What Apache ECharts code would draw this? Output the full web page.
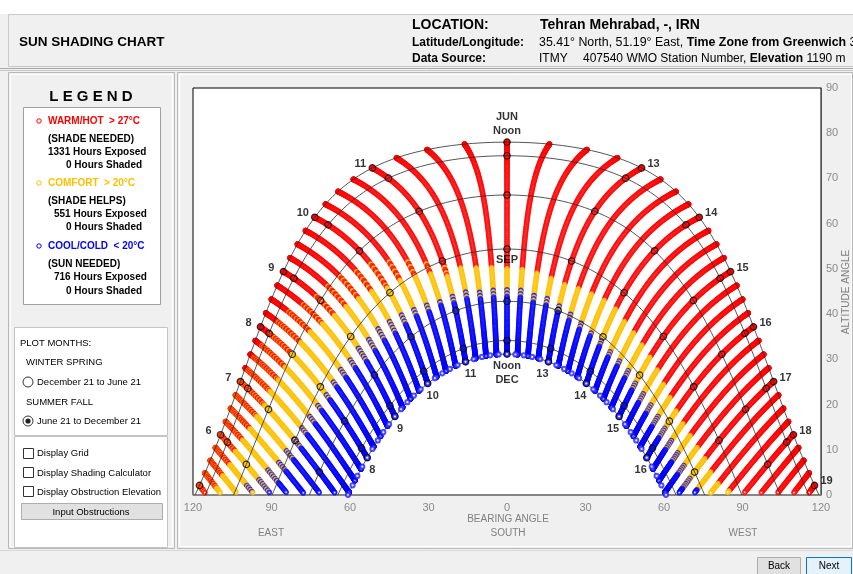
<!DOCTYPE html>
<html><head><meta charset="utf-8">
<script src="https://cdn.jsdelivr.net/npm/echarts@6/dist/echarts.min.js"></script>
<style>html,body{margin:0;padding:0;background:#fff}#c{width:853px;height:574px}</style>
</head><body><div id="c"></div>
<script>
// ---------------- data ----------------
const LATITUDE = 35.41;                 // deg North (Tehran Mehrabad)
const X_TICKS = [-120, -90, -60, -30, 0, 30, 60, 90, 120];   // bearing, east negative
const Y_TICKS = [0, 10, 20, 30, 40, 50, 60, 70, 80, 90];      // altitude
const ARC_NAMES = ['JUN', 'JUL', 'AUG', 'SEP', 'OCT', 'NOV', 'DEC'];
const ARC_DAYS  = [0, 30, 61, 92, 122, 153, 183];             // days after June 21
const LAST_DAY = 183;                                          // December 21
const MARK_HOURS = [5, 6, 7, 8, 9, 10, 11, 12, 13, 14, 15, 16, 17, 18, 19];
const JUN_LABELS = [['6',6],['7',7],['8',8],['9',9],['10',10],['11',11],['JUN\nNoon',12],
                    ['13',13],['14',14],['15',15],['16',16],['17',17],['18',18],['19',19]];
const DEC_LABELS = [['8',8],['9',9],['10',10],['11',11],['Noon\nDEC',12],['13',13],['14',14],['15',15],['16',16]];
// colour class along each 15-minute solar-time stroke, as segments "class:lastDay"
// R = warm/hot, Y = comfort, B = cool/cold, RY / YB = mixed days
const SLOT_COLORS = [
 ['5:00','RY'], ['5:15','RY:40,Y'], ['5:30','RY:42,Y'], ['5:45','RY:45,Y:68,YB'],
 ['6:00','RY:45,Y:75,YB:88,B'], ['6:15','RY:48,Y:80,YB:92,B'], ['6:30','RY:50,Y:85,YB:95,B'], ['6:45','RY:52,Y:88,YB:97,B'],
 ['7:00','RY:55,Y:90,YB:98,B'], ['7:15','R:15,RY:55,Y:92,YB:99,B'], ['7:30','R:20,RY:58,Y:94,YB:100,B'], ['7:45','R:25,RY:60,Y:95,YB:101,B'],
 ['8:00','R:30,RY:60,Y:97,YB:102,B'], ['8:15','R:35,RY:63,Y:97,YB:103,B'], ['8:30','R:40,RY:66,Y:98,YB:105,B'], ['8:45','R:48,RY:70,Y:99,YB:107,B'],
 ['9:00','R:55,RY:75,Y:100,YB:110,B'], ['9:15','R:58,RY:78,Y:101,YB:110,B'], ['9:30','R:62,RY:80,Y:102,YB:111,B'], ['9:45','R:66,RY:84,Y:104,YB:112,B'],
 ['10:00','R:70,RY:88,Y:105,YB:112,B'], ['10:15','R:76,RY:90,Y:107,YB:113,B'], ['10:30','R:82,RY:93,Y:109,YB:114,B'], ['10:45','R:88,RY:96,Y:111,YB:115,B'],
 ['11:00','R:95,RY:100,Y:112,YB:116,B'], ['11:15','R:98,Y:112,YB:117,B'], ['11:30','R:100,Y:113,YB:118,B'], ['11:45','R:101,Y:113,YB:118,B'],
 ['12:00','R:102,Y:114,YB:119,B'], ['12:15','R:102,Y:114,YB:119,B'], ['12:30','R:103,Y:115,YB:120,B'], ['12:45','R:104,Y:116,YB:121,B'],
 ['13:00','R:105,Y:117,YB:122,B'], ['13:15','R:104,Y:120,YB:124,B'], ['13:30','R:103,Y:122,YB:126,B'], ['13:45','R:102,Y:124,YB:127,B'],
 ['14:00','R:102,Y:124,YB:128,B'], ['14:15','R:104,Y:125,YB:130,B'], ['14:30','R:105,Y:125,YB:131,B'], ['14:45','R:106,Y:126,YB:133,B'],
 ['15:00','R:107,Y:127,YB:135,B'], ['15:15','R:108,Y:127,YB:136,B'], ['15:30','R:110,Y:128,YB:137,B'], ['15:45','R:111,Y:128,YB:138,B'],
 ['16:00','R:112,Y:128,YB:138,B'], ['16:15','R:112,Y:128,YB:138,B'], ['16:30','R:111,Y:128,YB:138,B'], ['16:45','R:110,Y:128,YB:138,B'],
 ['17:00','R:108,Y:128,YB:140,B'], ['17:15','R:108,Y:126,B'], ['17:30','R:106,Y'], ['17:45','R:100,Y'],
 ['18:00','R'], ['18:15','R'], ['18:30','R'], ['18:45','R'], ['19:00','R']
];
const CLASS_COLORS = {R: '#ff0000', Y: '#ffc000', B: '#0000ff'};

// ---------------- solar geometry ----------------
const D2R = Math.PI / 180;
function declination(d) { const n = 172 + d; return 23.44 * Math.sin(2 * Math.PI * (284 + n) / 365); }
function sunPos(hAng, dec) {
  const p = LATITUDE * D2R, de = dec * D2R, h = hAng * D2R;
  const s = Math.sin(p) * Math.sin(de) + Math.cos(p) * Math.cos(de) * Math.cos(h);
  const alt = Math.asin(Math.max(-1, Math.min(1, s))) / D2R;
  const az = Math.atan2(Math.sin(h), Math.sin(p) * Math.cos(h) - Math.cos(p) * Math.tan(de)) / D2R;
  return [az, alt];
}
function sunsetAngle(dec) { return Math.acos(-Math.tan(LATITUDE * D2R) * Math.tan(dec * D2R)) / D2R; }
function parseTime(t) { const [h, m] = t.split(':').map(Number); return h + m / 60; }
function classFor(spec, d) {
  const segs = spec.split(',');
  for (const sg of segs) {
    const [c, end] = sg.split(':');
    if (end === undefined || d <= Number(end)) {
      if (c === 'RY') return d % 3 === 0 ? 'Y' : 'R';      // mostly warm, some comfort days
      if (c === 'YB') return d % 2 === 0 ? 'Y' : 'B';
      return c;
    }
  }
  return 'B';
}

// strokes
const strokePts = [];
for (let d = 0; d <= LAST_DAY; d++) {
  const dec = declination(d);
  SLOT_COLORS.forEach(([t, spec]) => {
    const p = sunPos((parseTime(t) - 12) * 15, dec);
    if (p[1] > 0.4) strokePts.push([p[0], p[1], classFor(spec, d)]);
  });
}
// monthly arcs
const arcSeries = ARC_DAYS.map((d, i) => {
  const dec = declination(d), h0 = sunsetAngle(dec), pts = [];
  pts.push(sunPos(-h0, dec));
  for (let h = Math.ceil(-h0); h < h0; h += 1) pts.push(sunPos(h, dec));
  pts.push(sunPos(h0, dec));
  return {type: 'line', name: ARC_NAMES[i], data: pts, showSymbol: false, symbol: 'none', silent: true,
          lineStyle: {color: '#2a2a2a', width: 0.8}, z: 3, animation: false};
});
// hour markers
const markerPts = [];
ARC_DAYS.forEach(d => {
  const dec = declination(d);
  MARK_HOURS.forEach(hr => { const p = sunPos((hr - 12) * 15, dec); if (p[1] > 0.4) markerPts.push(p); });
});
// december path dots
const decDots = [];
{ const dec = declination(LAST_DAY), h0 = sunsetAngle(dec);
  for (let h = -72; h <= 72; h += 3) if (Math.abs(h) < h0) decDots.push(sunPos(h, dec)); }
// hour labels
const labelPts = [];
const decJ = declination(0), decD = declination(LAST_DAY), decS = declination(92);
JUN_LABELS.forEach(([txt, hr]) => {
  const p = sunPos((hr - 12) * 15, decJ);
  const off = hr < 12 ? [-12, -4] : hr > 12 ? [12, -4] : [0, -18];
  labelPts.push({value: p, label: {show: true, formatter: txt, offset: off}});
});
DEC_LABELS.forEach(([txt, hr]) => {
  const p = sunPos((hr - 12) * 15, decD);
  const off = hr < 12 ? [5, 12] : hr > 12 ? [-6, 12] : [0, 19];
  labelPts.push({value: p, label: {show: true, formatter: txt, offset: off}});
});
labelPts.push({value: sunPos(0, decS), label: {show: true, formatter: 'SEP', offset: [0, 11]}});

// ---------------- page furniture ----------------
const FF = '"Liberation Sans", Arial, sans-serif';
function T(x, y, text, font, fill, align) {
  return {type: 'text', silent: true, z: 10, style: {text, x, y, font: font + ' ' + FF, fill: fill || '#000',
    align: align || 'left', textAlign: align || 'left', verticalAlign: 'middle', textVerticalAlign: 'middle'}};
}
function R(x, y, w, h, fill, stroke, lw) {
  return {type: 'rect', silent: true, z: 1, shape: {x, y, width: w, height: h},
    style: {fill: fill || 'none', stroke: stroke || 'none', lineWidth: lw || 1}};
}
function C(cx, cy, r, fill, stroke, lw) {
  return {type: 'circle', silent: true, z: 10, shape: {cx, cy, r}, style: {fill: fill || 'none', stroke: stroke || 'none', lineWidth: lw || 1}};
}
function L(x1, y1, x2, y2, stroke, lw) {
  return {type: 'line', silent: true, z: 1, shape: {x1, y1, x2, y2}, style: {stroke, lineWidth: lw || 1}};
}
function RT(x, y, parts, size) {
  let txt = parts.map(([s, b]) => '{' + (b ? 'b' : 'n') + '|' + s + '}').join('');
  return {type: 'text', silent: true, z: 10, style: {text: txt, x, y, verticalAlign: 'middle', textVerticalAlign: 'middle',
    rich: {n: {fontSize: size, fontFamily: FF, fill: '#000', color: '#000'},
           b: {fontSize: size, fontFamily: FF, fontWeight: 'bold', fill: '#000', color: '#000'}}}};
}
const graphics = [
  R(0, 0, 853, 14, '#ffffff'),
  R(8.5, 14.5, 850, 52, '#f0f0f0', '#c8c8c8'),
  L(0, 68.5, 853, 68.5, '#a8a8a8'), L(0, 70.5, 853, 70.5, '#c8c8c8'),
  T(19, 42, 'SUN SHADING CHART', 'bold 13.5px'),
  T(412, 25, 'LOCATION:', 'bold 14px'),
  T(540, 25, 'Tehran Mehrabad, -, IRN', 'bold 14px'),
  T(412, 43, 'Latitude/Longitude:', 'bold 12px'),
  RT(539, 43, [['35.41° North, 51.19° East, ', 0], ['Time Zone from Greenwich', 1], [' 3.5', 0]], 12.4),
  T(412, 59, 'Data Source:', 'bold 12px'),
  T(539, 59, 'ITMY', '12px'),
  RT(583, 59, [['407540 WMO Station Number, ', 0], ['Elevation', 1], [' 1190 m', 0]], 12),
  // left panel
  R(8.5, 72.5, 166, 476, 'none', '#b8b8b8'),
  R(10.5, 74.5, 162, 472, 'none', '#ffffff'),
  T(91, 97, 'L E G E N D', 'bold 15px', '#000', 'center'),
  R(23.5, 107.5, 137, 197, '#ffffff', '#a0a0a0'),
  C(39, 121, 2.2, '#fff', '#ff0000', 1), T(48, 121, 'WARM/HOT  > 27°C', 'bold 10px', '#ff0000'),
  T(48, 139, '(SHADE NEEDED)', 'bold 10px'), T(48, 152, '1331 Hours Exposed', 'bold 10px'), T(66, 165, '0 Hours Shaded', 'bold 10px'),
  C(39, 183, 2.2, '#fff', '#ffc000', 1), T(48, 183, 'COMFORT  > 20°C', 'bold 10px', '#ffc000'),
  T(48, 201, '(SHADE HELPS)', 'bold 10px'), T(54, 214, '551 Hours Exposed', 'bold 10px'), T(66, 227, '0 Hours Shaded', 'bold 10px'),
  C(39, 246, 2.2, '#fff', '#0000ff', 1), T(48, 246, 'COOL/COLD  < 20°C', 'bold 10px', '#0000ff'),
  T(48, 264, '(SUN NEEDED)', 'bold 10px'), T(54, 277, '716 Hours Exposed', 'bold 10px'), T(66, 291, '0 Hours Shaded', 'bold 10px'),
  R(14.5, 327.5, 153, 108, '#ffffff', '#c4c4c4'),
  T(20, 343, 'PLOT MONTHS:', '9.5px'),
  T(26, 362, 'WINTER SPRING', '9.5px'),
  C(28, 382, 5, '#fff', '#333', 1), T(37, 382, 'December 21 to June 21', '9.5px'),
  T(26, 402, 'SUMMER FALL', '9.5px'),
  C(28, 421, 5, '#fff', '#333', 1), C(28, 421, 2.6, '#222', 'none'), T(37, 421, 'June 21 to December 21', '9.5px'),
  R(14.5, 436.5, 153, 111, '#ffffff', '#c4c4c4'),
  R(23.5, 448.5, 10, 10, '#fff', '#333'), T(37, 453, 'Display Grid', '9.5px'),
  R(23.5, 467.5, 10, 10, '#fff', '#333'), T(37, 473, 'Display Shading Calculator', '9.5px'),
  R(23.5, 486.5, 10, 10, '#fff', '#333'), T(37, 492, 'Display Obstruction Elevation', '9.5px'),
  R(21.5, 503.5, 141, 16, '#e1e1e1', '#adadad'), T(91, 512, 'Input Obstructions', '9.5px', '#000', 'center'),
  // main panel
  R(177.5, 72.5, 675, 476, 'none', '#b8b8b8'),
  R(179.5, 74.5, 672, 472, 'none', '#ffffff'),
  T(508, 519, 'BEARING ANGLE', '10px', '#808080', 'center'),
  T(271, 533, 'EAST', '10px', '#808080', 'center'),
  T(508, 533, 'SOUTH', '10px', '#808080', 'center'),
  T(743, 533, 'WEST', '10px', '#808080', 'center'),
  {type: 'text', silent: true, z: 10, x: 846, y: 292, rotation: Math.PI / 2,
   style: {text: 'ALTITUDE ANGLE', x: 0, y: 0, font: '10px ' + FF, fill: '#808080',
           align: 'center', textAlign: 'center', verticalAlign: 'middle', textVerticalAlign: 'middle'}},
  // bottom bar
  L(0, 550.5, 853, 550.5, '#d8d8d8'),
  R(757.5, 557.5, 43, 17, '#e1e1e1', '#adadad'), T(779, 566, 'Back', '10px', '#000', 'center'),
  R(806.5, 557.5, 45, 17, '#e5f1fb', '#0078d7'), T(829, 566, 'Next', '10px', '#000', 'center')
];

// ---------------- chart ----------------
const chart = echarts.init(document.getElementById('c'), null, {renderer: 'canvas'});
chart.setOption({
  animation: false,
  backgroundColor: '#f0f0f0',
  graphic: {elements: graphics},
  grid: {left: 193, top: 88, width: 628, height: 407, outerBoundsMode: 'none', containLabel: false,
         show: true, backgroundColor: '#ffffff', borderColor: '#000', borderWidth: 1},
  xAxis: {type: 'value', min: X_TICKS[0], max: X_TICKS[X_TICKS.length - 1], interval: 30,
    axisLine: {show: true, onZero: false, lineStyle: {color: '#8a8a8a', width: 1.5}}, axisTick: {show: false}, splitLine: {show: false},
    axisLabel: {formatter: v => String(Math.abs(v)), color: '#8a8a8a', fontSize: 11, fontFamily: FF, margin: 7}},
  yAxis: {type: 'value', position: 'right', min: Y_TICKS[0], max: Y_TICKS[Y_TICKS.length - 1], interval: 10,
    axisLine: {show: true, onZero: false, lineStyle: {color: '#555', width: 1}}, axisTick: {show: false},
    splitLine: {show: false},
    axisLabel: {color: '#8a8a8a', fontSize: 11, fontFamily: FF, margin: 5}},
  series: [
    {type: 'scatter', name: 'strokes', data: strokePts, symbol: 'emptyCircle', symbolSize: 3.8, progressive: 0, silent: true, z: 2,
     itemStyle: {color: p => CLASS_COLORS[p.data[2]], borderWidth: 1}},
    ...arcSeries,
    {type: 'scatter', name: 'decdots', data: decDots, symbol: 'emptyCircle', symbolSize: 4.2, silent: true, z: 4,
     itemStyle: {color: '#2020ff', borderWidth: 1}},
    {type: 'scatter', name: 'markers', data: markerPts, symbol: 'circle', symbolSize: 6.5, silent: true, z: 5,
     itemStyle: {color: 'rgba(0,0,0,0)', borderColor: '#000', borderWidth: 1.2}},
    {type: 'scatter', name: 'labels', data: labelPts, symbolSize: 1, silent: true, z: 6,
     itemStyle: {color: 'rgba(0,0,0,0)'},
     label: {show: true, position: 'inside', color: '#000', fontWeight: 'bold', fontSize: 11, fontFamily: FF, lineHeight: 14}}
  ]
});
</script></body></html>
